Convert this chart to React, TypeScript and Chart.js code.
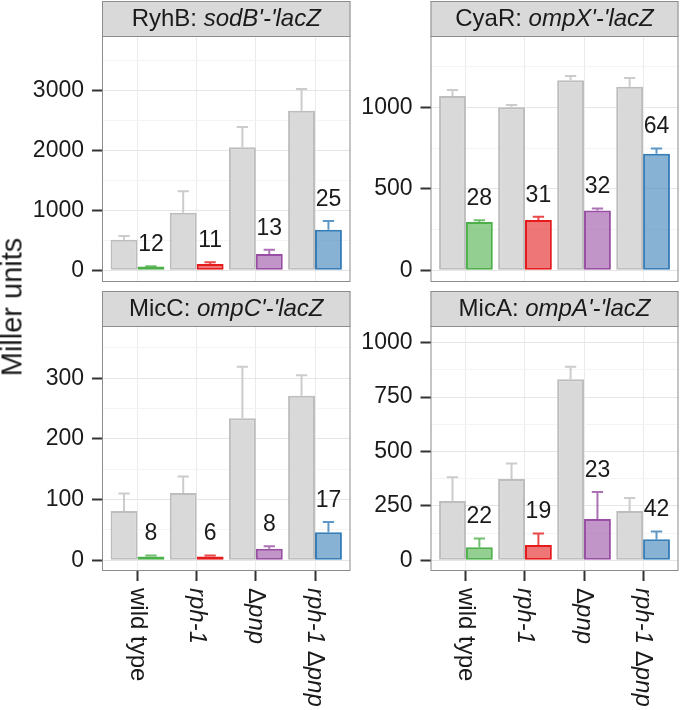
import React, { useEffect, useRef } from 'react';
import { Chart, registerables } from 'chart.js';

Chart.register(...registerables);

// ---------- data ----------
const genotypes = ['wild type', 'rph-1', 'Δpnp', 'rph-1 Δpnp'];
const srnaColors = ['#4DAF4A', '#E41A1C', '#984EA3', '#377EB8'];

const ryhbControl = [512, 961, 2056, 2667];
const ryhbControlErr = [60, 361, 338, 361];
const ryhbSrna = [61, 106, 272, 678];
const ryhbSrnaErr = [7, 27, 72, 144];
const ryhbPct = ['12', '11', '13', '25'];
const ryhbTicks = [0, 1000, 2000, 3000];
const ryhbRange = [-196, 3915];

const cyarControl = [1069, 1000, 1166, 1127];
const cyarControlErr = [37, 14, 26, 53];
const cyarSrna = [297, 309, 367, 715];
const cyarSrnaErr = [10, 19, 12, 33];
const cyarPct = ['28', '31', '32', '64'];
const cyarTicks = [0, 500, 1000];
const cyarRange = [-72, 1438];

const miccControl = [81, 111, 234, 271];
const miccControlErr = [29, 27, 85, 34];
const miccSrna = [6, 6, 19, 46];
const miccSrnaErr = [2, 2, 4, 17];
const miccPct = ['8', '6', '8', '17'];
const miccTicks = [0, 100, 200, 300];
const miccRange = [-17.7, 386];

const micaControl = [273, 374, 832, 227];
const micaControlErr = [109, 71, 58, 60];
const micaSrna = [60, 71, 190, 97];
const micaSrnaErr = [40, 52, 124, 36];
const micaPct = ['22', '19', '23', '42'];
const micaTicks = [0, 250, 500, 750, 1000];
const micaRange = [-49, 1077];

// ---------- layout / style ----------
const W = 680;
const H = 710;
const YW = 100;
const FONT = '"Liberation Sans", Arial, Helvetica, sans-serif';
const TEXT = '#1a1a1a';

type Panel = {
  title: string;
  reporter: string;
  control: number[];
  controlErr: number[];
  srna: number[];
  srnaErr: number[];
  pct: string[];
  ticks: number[];
  range: number[];
  left: number;
  right: number;
  top: number;
  bottom: number;
  bottomRow: boolean;
};

const panels: Panel[] = [
  { title: 'RyhB', reporter: "sodB'-'lacZ", control: ryhbControl, controlErr: ryhbControlErr, srna: ryhbSrna, srnaErr: ryhbSrnaErr, pct: ryhbPct, ticks: ryhbTicks, range: ryhbRange, left: 102, right: 350.5, top: 36, bottom: 282, bottomRow: false },
  { title: 'CyaR', reporter: "ompX'-'lacZ", control: cyarControl, controlErr: cyarControlErr, srna: cyarSrna, srnaErr: cyarSrnaErr, pct: cyarPct, ticks: cyarTicks, range: cyarRange, left: 430.5, right: 678.5, top: 36, bottom: 282, bottomRow: false },
  { title: 'MicC', reporter: "ompC'-'lacZ", control: miccControl, controlErr: miccControlErr, srna: miccSrna, srnaErr: miccSrnaErr, pct: miccPct, ticks: miccTicks, range: miccRange, left: 102, right: 350.5, top: 326, bottom: 571, bottomRow: true },
  { title: 'MicA', reporter: "ompA'-'lacZ", control: micaControl, controlErr: micaControlErr, srna: micaSrna, srnaErr: micaSrnaErr, pct: micaPct, ticks: micaTicks, range: micaRange, left: 430.5, right: 678.5, top: 326, bottom: 571, bottomRow: true },
];

function hexA(hex: string, a: number) {
  const n = parseInt(hex.slice(1), 16);
  return `rgba(${(n >> 16) & 255},${(n >> 8) & 255},${n & 255},${a})`;
}

type Part = { t: string; it?: boolean };

function genotypeParts(label: string): Part[] {
  if (label === 'wild type') return [{ t: label }];
  const parts: Part[] = [];
  label.split(/(Δ| )/).forEach((s) => {
    if (!s) return;
    parts.push({ t: s, it: !(s === 'Δ' || s === ' ') });
  });
  return parts;
}

function drawRich(ctx: CanvasRenderingContext2D, parts: Part[], x: number, y: number, size: number, align: 'center' | 'left') {
  const fontFor = (it?: boolean) => `${it ? 'italic ' : ''}${size}px ${FONT}`;
  const widths = parts.map((p) => {
    ctx.font = fontFor(p.it);
    return ctx.measureText(p.t).width;
  });
  const total = widths.reduce((a, b) => a + b, 0);
  let cx = align === 'center' ? x - total / 2 : x;
  ctx.textAlign = 'left';
  parts.forEach((p, i) => {
    ctx.font = fontFor(p.it);
    ctx.fillText(p.t, cx, y);
    cx += widths[i];
  });
}

function allTicks(majors: number[], range: number[]) {
  const step = majors[1] - majors[0];
  const out: number[] = [];
  const first = majors[0] - step / 2;
  if (first > range[0]) out.push(first);
  majors.forEach((m) => {
    out.push(m);
    if (m + step / 2 < range[1]) out.push(m + step / 2);
  });
  return out;
}

function makePlugin(p: Panel) {
  return {
    id: 'facet_' + p.title,
    afterDatasetsDraw(chart: any) {
      const ctx: CanvasRenderingContext2D = chart.ctx;
      const ys = chart.scales.y;
      const sets = [
        { vals: p.control, errs: p.controlErr, colors: p.control.map(() => '#cccccc') },
        { vals: p.srna, errs: p.srnaErr, colors: srnaColors.map((c) => hexA(c, 0.8)) },
      ];
      ctx.save();
      sets.forEach((s, d) => {
        const meta = chart.getDatasetMeta(d);
        meta.data.forEach((el: any, i: number) => {
          const yTop = ys.getPixelForValue(s.vals[i] + s.errs[i]);
          const yBar = ys.getPixelForValue(s.vals[i]);
          const cw = el.width * 0.42;
          ctx.strokeStyle = s.colors[i];
          ctx.lineWidth = 2;
          ctx.beginPath();
          ctx.moveTo(el.x, yBar);
          ctx.lineTo(el.x, yTop);
          ctx.moveTo(el.x - cw / 2, yTop);
          ctx.lineTo(el.x + cw / 2, yTop);
          ctx.stroke();
        });
      });
      ctx.restore();
    },
    afterDraw(chart: any) {
      const ctx: CanvasRenderingContext2D = chart.ctx;
      const a = chart.chartArea;
      const ys = chart.scales.y;
      ctx.save();
      // panel frame
      ctx.strokeStyle = '#8c8c8c';
      ctx.lineWidth = 1;
      ctx.strokeRect(a.left + 0.5, a.top + 0.5, a.right - a.left - 1, a.bottom - a.top - 1);
      // strip
      const sh = 35;
      ctx.fillStyle = '#d9d9d9';
      ctx.fillRect(a.left, a.top - sh, a.right - a.left, sh);
      ctx.strokeRect(a.left + 0.5, a.top - sh + 0.5, a.right - a.left - 1, sh);
      ctx.fillStyle = TEXT;
      ctx.textBaseline = 'middle';
      drawRich(ctx, [{ t: p.title + ': ' }, { t: p.reporter, it: true }], (a.left + a.right) / 2, a.top - sh / 2 + 1, 24, 'center');
      // percentage labels above sRNA bars
      const meta = chart.getDatasetMeta(1);
      meta.data.forEach((el: any, i: number) => {
        const yTop = ys.getPixelForValue(p.srna[i] + p.srnaErr[i]);
        ctx.font = `23px ${FONT}`;
        ctx.textAlign = 'center';
        ctx.textBaseline = 'middle';
        ctx.fillText(p.pct[i], el.x, yTop - 21.5);
      });
      // rotated x labels
      if (p.bottomRow) {
        const xs = chart.scales.x;
        genotypes.forEach((g, i) => {
          const x = xs.getPixelForValue(i);
          ctx.save();
          ctx.translate(x, a.bottom + 17);
          ctx.rotate(Math.PI / 2);
          ctx.textBaseline = 'middle';
          drawRich(ctx, genotypeParts(g), 0, 0, 24, 'left');
          ctx.restore();
        });
      }
      ctx.restore();
    },
  };
}

function makeConfig(p: Panel): any {
  const isMajor = (v: number) => p.ticks.includes(v);
  const XH = p.bottomRow ? 10 : 0;
  return {
    type: 'bar',
    data: {
      datasets: [
        {
          label: 'control',
          data: p.control.map((y, i) => ({ x: i, y })),
          backgroundColor: '#d9d9d9',
          borderColor: '#bdbdbd',
          borderWidth: 2,
          borderSkipped: false,
        },
        {
          label: 'sRNA',
          data: p.srna.map((y, i) => ({ x: i, y })),
          backgroundColor: srnaColors.map((c) => hexA(c, 0.6)),
          borderColor: srnaColors,
          borderWidth: 2,
          borderSkipped: false,
        },
      ],
    },
    options: {
      animation: false,
      responsive: false,
      events: [],
      datasets: { bar: { categoryPercentage: 0.91, barPercentage: 1 } },
      layout: {
        padding: { left: p.left - YW, right: W - p.right, top: p.top, bottom: H - p.bottom - XH },
      },
      plugins: { legend: { display: false }, tooltip: { enabled: false }, title: { display: false } },
      scales: {
        x: {
          type: 'linear',
          min: -0.6,
          max: genotypes.length - 0.4,
          offset: false,
          afterBuildTicks: (s: any) => {
            s.ticks = genotypes.map((_, i) => ({ value: i }));
          },
          afterFit: (s: any) => {
            s.height = XH;
          },
          ticks: { display: false },
          grid: {
            offset: false,
            color: '#ebebeb',
            lineWidth: 1,
            drawTicks: p.bottomRow,
            tickLength: 10,
            tickWidth: 2,
            tickColor: '#333333',
          },
          border: { display: false },
        },
        y: {
          type: 'linear',
          min: p.range[0],
          max: p.range[1],
          afterBuildTicks: (s: any) => {
            s.ticks = allTicks(p.ticks, p.range).map((v) => ({ value: v }));
          },
          afterFit: (s: any) => {
            s.width = YW;
          },
          ticks: {
            autoSkip: false,
            padding: 8,
            color: TEXT,
            font: { family: FONT, size: 23 },
            callback: (v: number) => (isMajor(v) ? String(v) : ''),
          },
          grid: {
            color: (c: any) => (c.tick && isMajor(c.tick.value) ? '#e6e6e6' : '#f4f4f4'),
            lineWidth: 1,
            tickLength: 10,
            tickWidth: 2,
            tickColor: (c: any) => (c.tick && isMajor(c.tick.value) ? '#333333' : 'rgba(0,0,0,0)'),
          },
          border: { display: false },
        },
      },
    },
    plugins: [makePlugin(p)],
  };
}

function PanelChart({ p }: { p: Panel }) {
  const ref = useRef<HTMLCanvasElement | null>(null);
  useEffect(() => {
    if (!ref.current) return;
    const chart = new Chart(ref.current, makeConfig(p));
    return () => chart.destroy();
  }, [p]);
  return (
    <canvas
      ref={ref}
      width={W}
      height={H}
      style={{ position: 'absolute', left: 0, top: 0, width: W, height: H }}
    />
  );
}

export default function App() {
  return (
    <div style={{ position: 'absolute', left: 0, top: 0, width: W, height: H, background: '#ffffff', overflow: 'hidden' }}>
      {panels.map((p) => (
        <PanelChart key={p.title} p={p} />
      ))}
      <div
        style={{
          position: 'absolute',
          left: 12,
          top: 307,
          transform: 'translate(-50%, -50%) rotate(-90deg)',
          fontFamily: FONT,
          fontSize: 29,
          lineHeight: 1,
          whiteSpace: 'nowrap',
          color: TEXT,
        }}
      >
        Miller units
      </div>
    </div>
  );
}
